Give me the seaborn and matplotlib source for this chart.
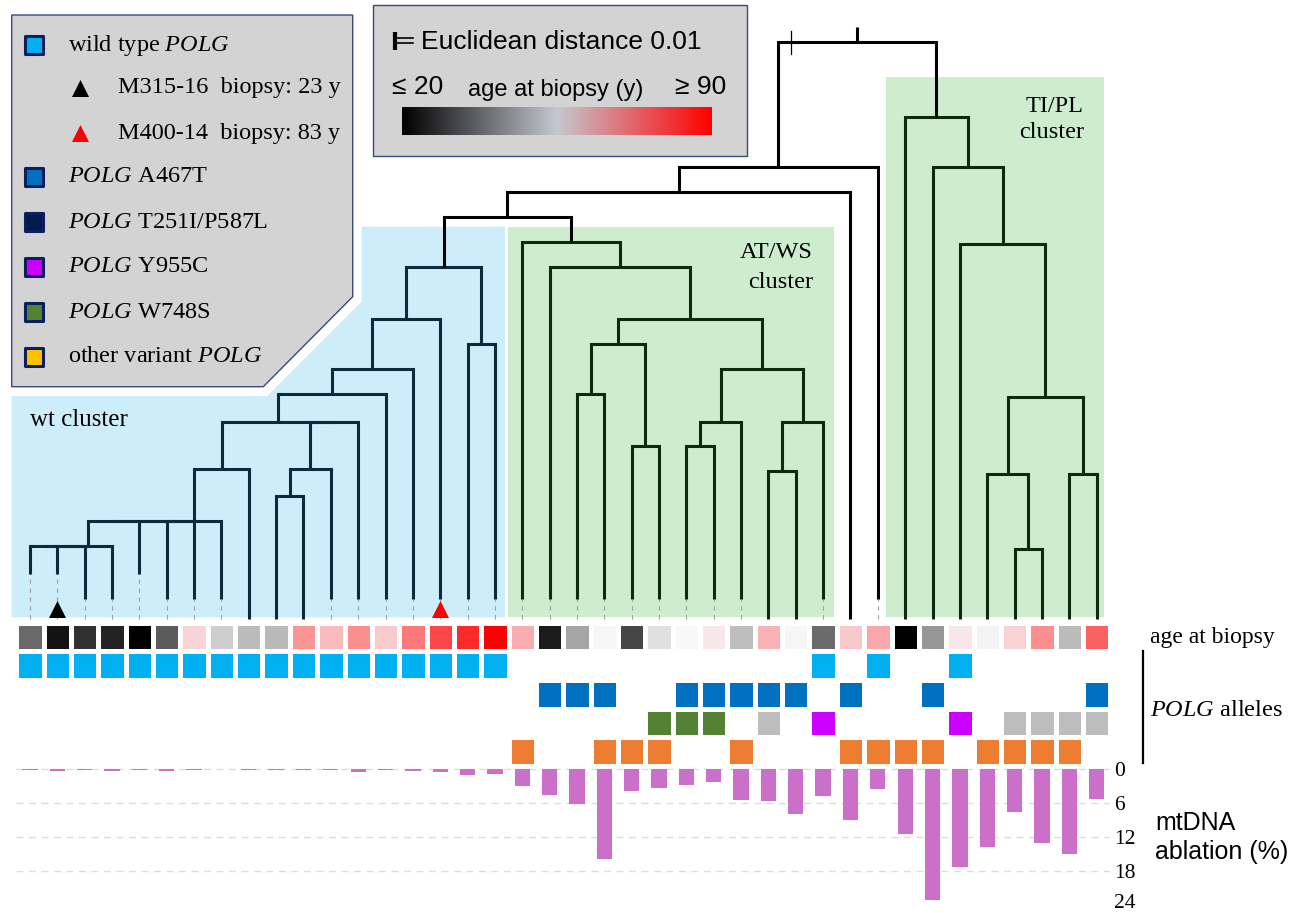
import numpy as np
import pandas as pd
import seaborn as sns
import matplotlib.pyplot as plt
import matplotlib.transforms as mtrans
from matplotlib.colors import LinearSegmentedColormap, ListedColormap
from matplotlib.patches import Polygon, Rectangle

plt.rcParams['font.family'] = ['Liberation Serif', 'DejaVu Sans']
plt.rcParams['mathtext.fontset'] = 'custom'
plt.rcParams['mathtext.rm'] = 'Liberation Serif'
plt.rcParams['mathtext.it'] = 'Liberation Serif:italic'
SANS = ['Liberation Sans', 'DejaVu Sans']

# ---------------- data (leaf order of the dendrogram) ----------------
n_leaves = 40
age_at_biopsy = [35, 23, 27, 25, 18, 33, 60, 49, 46.5, 46, 69, 63.5, 70, 61.4, 73, 80, 84, 90,
                 65.4, 24, 43.4, 55.5, 30, 51.6, 55, 57.3, 46.7, 64.6, 55.5, 35.2, 61.6, 66.4,
                 18, 41.2, 57.3, 54.2, 60.4, 70, 46.5, 76.2]
mtdna_ablation = [0.3, 0.5, 0.3, 0.5, 0.2, 0.4, 0.3, 0.1, 0.2, 0.3, 0.3, 0.3, 0.65, 0.3, 0.5, 0.7,
                  1.2, 1.0, 3.0, 4.6, 6.3, 15.9, 4.0, 3.5, 2.9, 2.35, 5.6, 5.8, 8.0, 4.8, 9.0, 3.7,
                  11.5, 23.2, 17.3, 13.8, 7.6, 13.2, 15.1, 5.4]

# POLG allele rows: which leaves carry which allele
wt_polg = list(range(18)) + [29, 31, 34]
polg_a467t = [19, 20, 21, 24, 25, 26, 27, 28, 30, 33, 39]
polg_w748s = [23, 24, 25]
polg_grey = [27, 36, 37, 38, 39]
polg_y955c = [29, 34]
polg_orange = [18, 21, 22, 23, 26, 30, 31, 32, 33, 35, 36, 37, 38]

marked_leaves = {1: 'black', 15: 'red'}

wt_cluster = list(range(0, 18))
atws_cluster = list(range(18, 30))
tipl_cluster = list(range(32, 40))

# height where each leaf line stops (dashed below), Euclidean distance
leaf_tip = [0.020, 0.020, 0.009, 0.009, 0.020, 0.009, 0.009, 0.009, 0, 0, 0, 0.009, 0.009,
            0.009, 0.009, 0.009, 0.009, 0.009, 0.009, 0.009, 0.009, 0.009, 0.009, 0.009, 0.009,
            0.009, 0.009, 0, 0, 0.009, 0, 0.009, 0, 0, 0, 0, 0, 0, 0, 0]

# merges: (node, left, right, height)
merges = [
    ('a1', 0, 1, 0.032), ('a2', 'a1', 2, 0.032), ('a', 'a2', 3, 0.032),
    ('b1', 'a', 4, 0.043), ('b2', 'b1', 5, 0.043), ('b3', 'b2', 6, 0.043), ('b', 'b3', 7, 0.043),
    ('c', 'b', 8, 0.066), ('d', 9, 10, 0.054), ('e', 'd', 11, 0.066), ('e2', 'e', 12, 0.087),
    ('f', 'c', 'e2', 0.087), ('g', 'f', 13, 0.099), ('h', 'g', 14, 0.110), ('i', 'h', 15, 0.132),
    ('j', 16, 17, 0.121), ('k', 'i', 'j', 0.155),
    ('q', 20, 21, 0.099), ('r', 22, 23, 0.076), ('o', 'q', 'r', 0.121),
    ('u', 24, 25, 0.076), ('s', 'u', 26, 0.087), ('v', 27, 28, 0.065), ('t', 'v', 29, 0.087),
    ('p', 's', 't', 0.110), ('n', 'o', 'p', 0.132), ('m', 19, 'n', 0.155),
    ('atws', 18, 'm', 0.166), ('l', 'k', 'atws', 0.177), ('w', 'l', 30, 0.188),
    ('x', 'w', 31, 0.199),
    ('af', 36, 37, 0.031), ('ad', 35, 'af', 0.064), ('ae', 38, 39, 0.064),
    ('ac', 'ad', 'ae', 0.098), ('ab', 34, 'ac', 0.165), ('aa', 33, 'ab', 0.199),
    ('z', 32, 'aa', 0.221), ('root', 'x', 'z', 0.254),
]
root_top = 0.261
scale_bar = 0.01

legend_entries = [('wild type $\\mathit{POLG}$', '#00B0F0'),
                  ('$\\mathit{POLG}$ A467T', '#0070C0'),
                  ('$\\mathit{POLG}$ T251I/P587L', '#001A4D'),
                  ('$\\mathit{POLG}$ Y955C', '#CC00FF'),
                  ('$\\mathit{POLG}$ W748S', '#548235'),
                  ('other variant $\\mathit{POLG}$', '#FFC000')]
legend_markers = [('M315-16  biopsy: 23 y', 'black'), ('M400-14  biopsy: 83 y', 'red')]

# ---------------- layout ----------------
W, H = 1291, 913
fig = plt.figure(figsize=(W / 100, H / 100), dpi=100)


def rect(x0, y0, x1, y1):
    return [x0 / W, 1 - y1 / H, (x1 - x0) / W, (y1 - y0) / H]


LX0, LX1 = 16.3, 1110.3
ax_bg = fig.add_axes([0, 0, 1, 1])
ax_bg.set_xlim(0, W)
ax_bg.set_ylim(H, 0)
ax_bg.axis('off')

ax_tree = fig.add_axes(rect(LX0, 0, LX1, 619))
ax_age = fig.add_axes(rect(LX0, 622.7, LX1, 651.3))
ax_all = fig.add_axes(rect(LX0, 651.3, LX1, 765.7))
ax_bar = fig.add_axes(rect(LX0, 766.8, LX1, 913))
for a in (ax_tree, ax_age, ax_all, ax_bar):
    a.set_facecolor('none')

# cluster backgrounds
ax_bg.add_patch(Polygon([(11.7, 396), (267.4, 396), (361.7, 301.7), (361.7, 226.7), (505, 226.7),
                         (505, 617.3), (11.7, 617.3)], closed=True, fc='#CCEDF9', ec='none'))
ax_bg.add_patch(Rectangle((507.5, 226.7), 326.5, 390.6, fc='#CEEDCF', ec='none'))
ax_bg.add_patch(Rectangle((886, 77.3), 217.5, 540, fc='#CEEDCF', ec='none'))

# ---------------- dendrogram ----------------
col_wt, col_green = '#0B2A3A', '#0B2B0E'
pos = {i: i + 0.5 for i in range(n_leaves)}
hgt = {i: leaf_tip[i] for i in range(n_leaves)}
members = {i: {i} for i in range(n_leaves)}


def line_colour(mem):
    if mem <= set(wt_cluster):
        return col_wt
    if mem <= set(atws_cluster) or mem <= set(tipl_cluster):
        return col_green
    return 'black'


for i in range(n_leaves):
    if leaf_tip[i] > 0:
        ax_tree.plot([pos[i], pos[i]], [0, leaf_tip[i]], color='#A0A0A0', lw=0.8,
                     ls=(0, (4, 4)), clip_on=False)

for name, a, b, h in merges:
    pos[name] = (pos[a] + pos[b]) / 2
    hgt[name] = h
    members[name] = members[a] | members[b]
    ax_tree.plot([pos[a], pos[a], pos[b], pos[b]], [hgt[a], h, h, hgt[b]],
                 color=line_colour(members[name]), lw=2.2, solid_joinstyle='miter',
                 solid_capstyle='butt', clip_on=False)

ax_tree.plot([pos['root'], pos['root']], [hgt['root'], root_top], color='black', lw=2.2,
             solid_capstyle='butt')
sx = pos['x'] + 0.45
ax_tree.plot([sx, sx], [hgt['root'] - scale_bar / 2, hgt['root'] + scale_bar / 2],
             color='black', lw=0.9)

for leaf, c in marked_leaves.items():
    ax_tree.scatter([pos[leaf]], [0.0042], marker='^', s=150, color=c, lw=0, zorder=5,
                    clip_on=False)

ax_tree.set_xlim(0, n_leaves)
ax_tree.set_ylim(0, 619 / 2270)
ax_tree.axis('off')

# ---------------- age row ----------------
age_cmap = LinearSegmentedColormap.from_list('age', ['#000000', '#F8F8FA', '#FF0000'])
sns.heatmap(np.array([age_at_biopsy]), cmap=age_cmap, vmin=20, vmax=90, cbar=False,
            linewidths=3.5, linecolor='white', xticklabels=False, yticklabels=False, ax=ax_age)

# ---------------- allele rows ----------------
allele = np.full((4, n_leaves), np.nan)
allele[0, wt_polg] = 0
allele[1, polg_a467t] = 1
allele[2, polg_w748s] = 2
allele[2, polg_grey] = 3
allele[2, polg_y955c] = 4
allele[3, polg_orange] = 5
allele_cmap = ListedColormap(['#00B0F0', '#0070C0', '#548235', '#BDBDBD', '#CC00FF', '#ED7D31'])
sns.heatmap(allele, cmap=allele_cmap, vmin=-0.5, vmax=5.5, cbar=False, linewidths=3.5,
            linecolor='white', xticklabels=False, yticklabels=False, ax=ax_all)

# ---------------- mtDNA ablation bars ----------------
df = pd.DataFrame({'leaf': np.arange(n_leaves), 'ablation': mtdna_ablation})
sns.barplot(data=df, x='leaf', y='ablation', color='#CB70C8', saturation=1, width=0.56,
            errorbar=None, linewidth=0, ax=ax_bar)
for v in [0, 6, 12, 18]:
    ax_bar.axhline(v, color='#DDDDDD', lw=1, ls=(0, (5, 4)), zorder=0)
ax_bar.set_xlim(-0.5, n_leaves - 0.5)
ax_bar.set_ylim(25.5, -0.3)
ax_bar.set_yticks([0, 6, 12, 18, 24])
ax_bar.yaxis.tick_right()
ax_bar.tick_params(axis='y', length=0, pad=3, labelsize=15.5)
ax_bar.set_xticks([])
ax_bar.set_xlabel('')
ax_bar.set_ylabel('')
for sp in ax_bar.spines.values():
    sp.set_visible(False)
last = ax_bar.get_yticklabels()[-1]
last.set_transform(last.get_transform() + mtrans.ScaledTranslation(0, 0.035, fig.dpi_scale_trans))

# ---------------- legend box ----------------
ax_bg.add_patch(Polygon([(11.7, 15), (352.7, 15), (352.7, 296.7), (263.3, 386.7), (11.7, 386.7)],
                        closed=True, fc='#D3D3D3', ec='#3A4A80', lw=1))
sq_y = [45, 177, 222, 267, 312, 357]
for (lab, c), y in zip(legend_entries, sq_y):
    ax_bg.scatter([33.8], [y], marker='s', s=170, color=c, edgecolor='#0A1F5C', lw=2.2)
    ax_bg.text(68.3, y, lab, fontsize=17.5, va='center', ha='left')
for (lab, c), y in zip(legend_markers, [88, 133]):
    ax_bg.scatter([79.7], [y], marker='^', s=150, color=c, lw=0)
    ax_bg.text(118.5, y, lab, fontsize=17.5, va='center', ha='left')

# ---------------- distance / age legend box ----------------
ax_bg.add_patch(Rectangle((372.7, 5), 374, 151, fc='#D3D3D3', ec='#3A4A80', lw=1))
ax_bg.plot([395, 395], [32, 50], color='black', lw=3, solid_capstyle='butt')
ax_bg.plot([397, 413], [38.5, 38.5], color='black', lw=1.2)
ax_bg.plot([397, 413], [43.5, 43.5], color='black', lw=1.2)
ax_bg.text(421, 42, 'Euclidean distance 0.01', family=SANS, fontsize=19, va='center')
ax_bg.text(392, 87, '≤ 20', family=SANS, fontsize=19, va='center')
ax_bg.text(556, 90, 'age at biopsy (y)', family=SANS, fontsize=17, va='center', ha='center')
ax_bg.text(675, 87, '≥ 90', family=SANS, fontsize=19, va='center')
bar_cmap = LinearSegmentedColormap.from_list('age_leg', ['#000000', '#C5C8D0', '#FF0000'])
ax_bg.imshow(np.linspace(0, 1, 256)[None, :], cmap=bar_cmap, aspect='auto',
             extent=(402, 712, 135, 107), zorder=3)
ax_bg.set_xlim(0, W)
ax_bg.set_ylim(H, 0)

# ---------------- cluster labels ----------------
ax_bg.text(30, 420, 'wt cluster', fontsize=18, va='center')
ax_bg.text(813, 253, 'AT/WS', fontsize=17.5, va='center', ha='right')
ax_bg.text(813, 283, 'cluster', fontsize=17.5, va='center', ha='right')
ax_bg.text(1084, 106, 'TI/PL', fontsize=17.5, va='center', ha='right')
ax_bg.text(1084, 133, 'cluster', fontsize=17.5, va='center', ha='right')

# ---------------- right side labels ----------------
ax_bg.text(1150, 637, 'age at biopsy', fontsize=17, va='center')
ax_bg.plot([1143, 1143], [651, 763], color='black', lw=1.6)
ax_bg.text(1150, 710, '$\\mathit{POLG}$ alleles', fontsize=17.5, va='center')
ax_bg.text(1155, 823, 'mtDNA', family=SANS, fontsize=18, va='center')
ax_bg.text(1155, 852, 'ablation (%)', family=SANS, fontsize=18, va='center')

fig.savefig('out.png', dpi=100)
